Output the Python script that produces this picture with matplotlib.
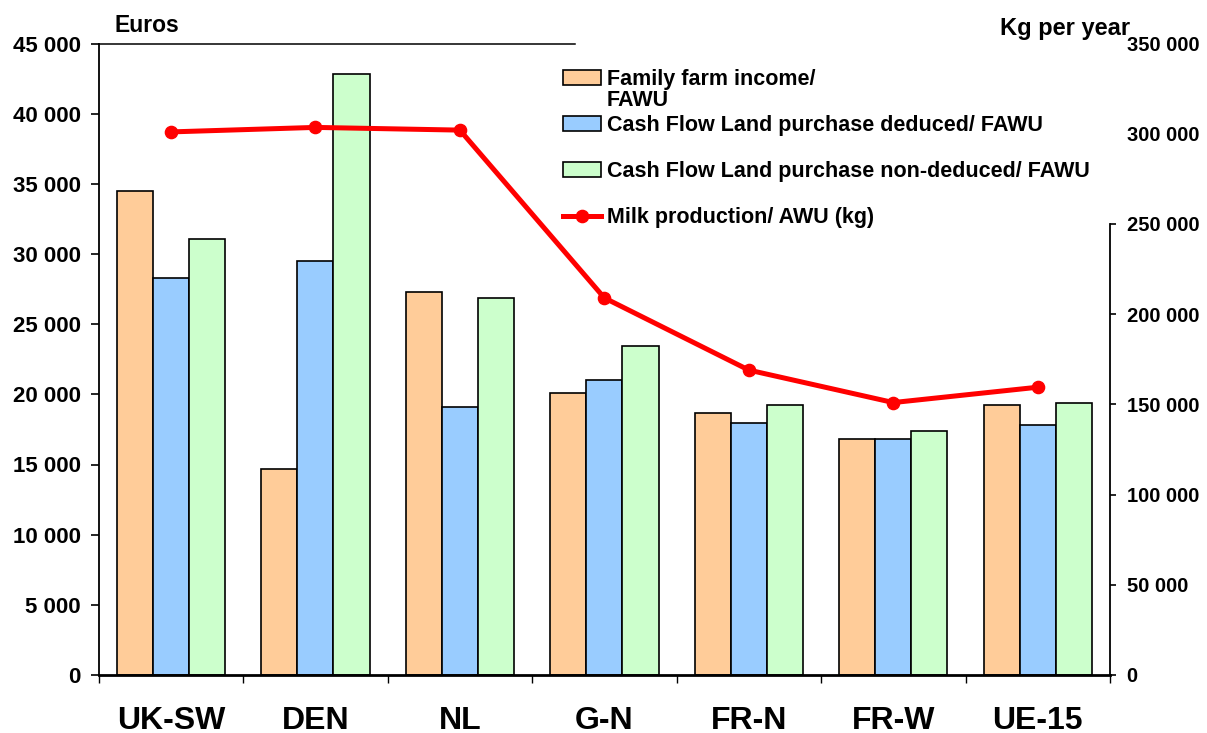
import matplotlib
matplotlib.use("Agg")
import matplotlib.pyplot as plt
import numpy as np

categories = ["UK-SW", "DEN", "NL", "G-N", "FR-N", "FR-W", "UE-15"]
family_income = [34500, 14650, 27300, 20100, 18700, 16800, 19250]
cf_deduced = [28300, 29500, 19100, 21050, 17950, 16850, 17850]
cf_non_deduced = [31100, 42800, 26850, 23450, 19250, 17400, 19350]
milk_production = [301000, 303500, 302000, 209000, 169000, 151000, 159500]

labels = ["Family farm income/", "Cash Flow Land purchase deduced/ FAWU",
          "Cash Flow Land purchase non-deduced/ FAWU", "Milk production/ AWU (kg)"]
colors = ["#FFCC99", "#99CCFF", "#CCFFCC"]
left_ticks = list(range(0, 45001, 5000))
right_ticks = list(range(0, 350001, 50000))

def fmt(v):
    return f"{v:,}".replace(",", " ")

plt.rcParams['font.family'] = ['Liberation Sans', 'DejaVu Sans']
plt.rcParams['font.weight'] = 'bold'

W, H = 1207, 733
fig = plt.figure(figsize=(W / 100, H / 100), dpi=100)
ax = fig.add_axes([98.7 / W, 1 - 675 / H, (1110 - 98.7) / W, (675 - 43.5) / H])
ax2 = ax.twinx()

x = np.arange(len(categories))
bw = 0.25
bars = []
for i, (vals, c) in enumerate(zip([family_income, cf_deduced, cf_non_deduced], colors)):
    b = ax.bar(x + (i - 1) * bw, vals, width=bw, color=c, edgecolor="black", linewidth=1.2, zorder=2)
    bars.append(b)

line, = ax2.plot(x, milk_production, color="#FF0000", linewidth=3.6, marker="o",
                 markersize=8.8, zorder=3)

ax.set_xlim(-0.5, len(categories) - 0.5)
ax.set_ylim(0, 45000)
ax2.set_ylim(0, 350000)

ax.set_yticks(left_ticks)
ax.set_yticklabels([fmt(v) for v in left_ticks], fontsize=16, fontweight="bold")
ax2.set_yticks(right_ticks)
ax2.set_yticklabels([fmt(v) for v in right_ticks], fontsize=14.5, fontweight="bold")

ax.set_xticks(x)
ax.set_xticklabels(categories, fontsize=23, fontweight="bold")
ax.tick_params(axis="x", which="major", length=0, pad=22.5)
ax.set_xticks(np.arange(-0.5, len(categories), 1.0), minor=True)
ax.tick_params(axis="x", which="minor", length=6, width=1, direction="out")
ax.tick_params(axis="y", length=6, width=1.2, pad=7)
ax2.tick_params(axis="y", length=4, width=1.2, pad=8)

for t in ax2.yaxis.get_major_ticks()[-2:]:
    t.tick2line.set_visible(False)

ax.spines["right"].set_visible(False)
ax.spines["top"].set_bounds(-0.5, 2.8)
ax.spines["top"].set_linewidth(1.1)
ax.spines["left"].set_linewidth(1.3)
ax.spines["bottom"].set_linewidth(2.0)
for s in ["top", "left", "bottom"]:
    ax2.spines[s].set_visible(False)
ax2.spines["right"].set_bounds(0, 250000)
ax2.spines["right"].set_linewidth(1.3)

fig.text(115 / W, 1 - 32.5 / H, "Euros", fontsize=16.5, fontweight="bold", ha="left", va="baseline")
fig.text(1130 / W, 1 - 35 / H, "Kg per year", fontsize=17, fontweight="bold", ha="right", va="baseline")

leg = ax2.legend([bars[0], bars[1], bars[2], line], labels,
                 loc="upper left", bbox_to_anchor=(563 / W, 1 - 69 / H),
                 bbox_transform=fig.transFigure, frameon=False,
                 prop={"size": 15.5, "weight": "bold"},
                 handlelength=1.75, handleheight=0.65, handletextpad=0.3,
                 labelspacing=1.16, borderaxespad=0, borderpad=0)
fig.text(607 / W, 1 - 100 / H, "FAWU", fontsize=15.5, fontweight="bold", ha="left", va="center")

fig.savefig("out.png", dpi=100)
